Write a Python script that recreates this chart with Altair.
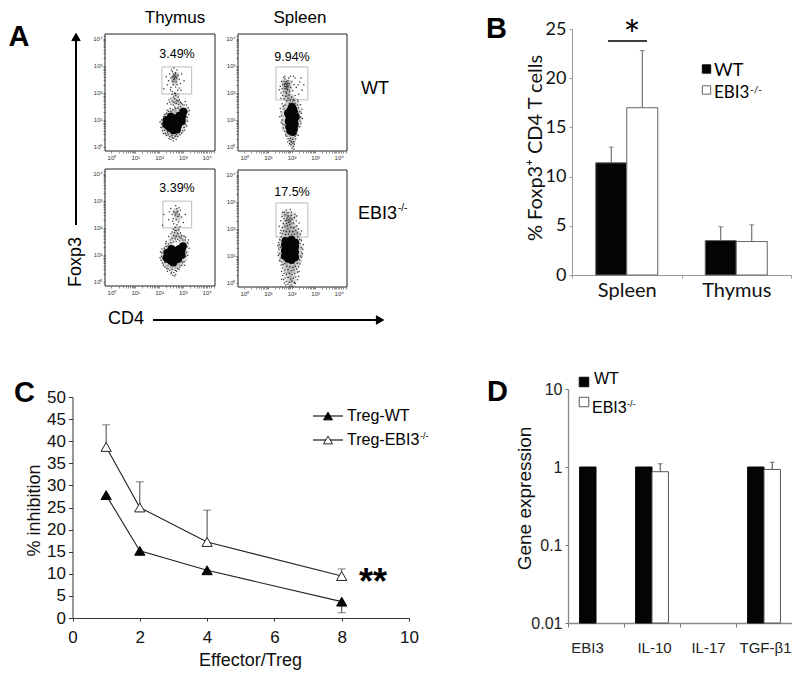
import altair as alt
import numpy as np
import pandas as pd

W, H = 784, 666
M = 8  # page margin
SANS = "Liberation Sans"
CAL = "Lato"

# ---------- panel A values (log10 decades) ----------
TL_CORE = [(2.3,.85),(2.32,1.0),(2.45,.72),(2.6,.62),(2.35,.8),(2.4,.95),(2.5,.7),(2.55,.85),(2.55,1.0),(2.65,.75),(2.7,.9),(2.7,1.05),(2.8,.8),(2.82,1.0),(2.85,1.15),(2.95,.95),(2.98,1.15),(3.02,1.3),(2.5,1.12),(2.75,.65)]
TL_HALO = [(2.68,2.58),(2.62,2.5),(2.72,2.66),(2.66,2.4),(2.72,1.9),(2.65,1.7),(2.78,1.65),(2.2,.75),(2.2,.95),(2.3,.55),(2.3,1.15),(2.45,.48),(2.45,1.25),(2.6,.42),(2.6,1.3),(2.75,.48),(2.75,1.35),(2.9,.6),(2.9,1.45),(3.05,.8),(3.1,1.05),(3.12,1.35)]
TL_DOTS = [(2.6,2.6),(2.65,2.65),(2.7,2.6),(2.65,2.55),(2.6,2.7),(2.7,2.7),(2.55,2.62),(2.75,2.55),(2.62,2.5),(2.68,2.75),(2.5,2.55),(2.8,2.65),(2.58,2.42),(2.72,2.4),(2.45,2.7),(2.85,2.5),(2.52,2.85),(2.75,2.85),(2.4,2.45),(2.9,2.35),(2.6,2.3),(2.7,2.22),(2.5,2.2),(2.85,2.18),(2.35,2.3),(2.62,2.92),(2.95,2.7),(2.3,2.6),(2.78,2.1),(2.55,2.05),(2.65,2.0),(3.05,2.45),(2.2,2.15),
(2.55,1.95),(2.7,1.9),(2.6,1.85),(2.8,1.85),(2.5,1.8),(2.65,1.78),(2.75,1.72),(2.85,1.75),(2.55,1.7),(2.45,1.65),(2.62,1.65),(2.72,1.62),(2.9,1.65),(2.35,1.6),(2.5,1.58),(2.6,1.55),(2.82,1.58),
(2.08,.72),(2.1,.85),(2.12,1.0),(2.14,.6),(2.18,.5),(2.2,.95),(2.2,1.12),(2.24,.62),(2.25,1.2),(2.3,.42),(2.32,1.25),(2.38,.45),(2.4,1.32),(2.45,.38),(2.5,1.3),(2.55,.42),(2.58,1.38),(2.62,.32),(2.68,.4),(2.7,1.42),(2.78,.38),(2.8,1.45),(2.88,.45),(2.9,1.5),(2.95,.52),(3.0,.6),(3.05,.72),(3.1,.85),(3.12,1.0),(3.18,1.1),(3.2,1.3),(3.22,1.45),(3.15,1.55),(3.05,1.55),(2.98,1.58),(3.25,1.2),(2.72,.28),(2.5,.28),(2.6,.22),(2.35,.55),
(2.04,.92),(2.16,.74),(2.22,1.05),(2.27,.5),(2.34,1.36),(2.42,.3),(2.47,1.42),(2.56,.34),(2.66,1.48),(2.74,.46),(2.86,.54),(2.94,1.62),(3.08,.62),(3.16,.78),(3.2,.95),(3.28,1.35),(3.1,1.68),(2.82,1.7),(2.42,1.75),(2.68,1.98),(2.48,2.12),(2.92,2.1),(2.76,2.3),(2.56,2.78)]

TR_CORE = [(1.95,.6),(2.05,.55),(2.1,.68),(1.9,.75),(2.0,.8),(2.13,.85),(1.88,.95),(2.0,1.0),(2.13,1.05),(1.9,1.15),(2.02,1.2),(2.12,1.25),(1.95,1.35),(2.08,1.38),(2.02,1.48),(1.85,1.25),(2.18,1.12)]
TR_HALO = [(1.8,2.3),(1.72,2.22),(1.88,2.38),(1.78,2.12),(1.7,2.4),(1.9,2.2),(1.85,2.02),(1.75,1.95),(1.95,1.85),(2.05,1.75),(1.8,1.8),(1.72,.7),(1.68,.95),(1.66,1.2),(1.72,1.45),(1.85,1.62),(2.2,1.55),(2.3,1.3),(2.32,1.05),(2.28,.8),(2.15,.5),(1.85,.48),(2.0,.38),(2.05,.25),(2.0,.1)]
TR_DOTS = [(1.8,2.3),(1.75,2.35),(1.85,2.25),(1.7,2.25),(1.9,2.35),(1.78,2.42),(1.62,2.3),(1.68,2.42),(1.85,2.45),(1.95,2.2),(1.72,2.15),(1.82,2.12),(1.6,2.15),(1.92,2.05),(1.58,2.42),(1.72,2.52),(1.88,2.55),(2.02,2.42),(2.1,2.3),(1.52,2.25),(1.65,2.05),(1.78,2.0),(1.55,2.0),(1.9,1.92),(2.05,2.08),(2.2,2.2),(2.35,2.4),(2.15,2.55),(1.62,1.9),(1.75,1.88),(2.0,1.85),(1.85,1.8),(2.15,1.9),(1.68,1.78),(1.95,1.72),(2.3,1.95),(2.08,1.75),(1.55,1.8),(1.8,1.7),(2.25,1.75),(2.45,2.1),(1.72,2.62),(1.95,2.62),(1.76,2.24),(1.84,2.36),(1.7,2.34),(1.8,2.18),
(1.55,1.3),(1.6,1.0),(1.62,.85),(1.58,1.15),(1.65,.7),(1.68,1.4),(1.65,1.5),(1.7,.58),(1.72,1.55),(1.75,.45),(1.8,.4),(1.85,.3),(1.9,.25),(1.95,.32),(2.0,.18),(2.05,.28),(2.1,.2),(2.15,.4),(2.2,.48),(2.25,.6),(2.32,.75),(2.36,.95),(2.38,1.1),(2.35,1.3),(2.3,1.45),(2.25,1.55),(2.15,1.62),(2.05,1.66),(1.9,1.62),(2.42,1.25),(1.98,.08),(2.08,.02),(2.02,-.05),(2.12,.1),(1.92,.12),(2.1,-.08),
(1.5,1.12),(1.56,.9),(1.52,1.42),(1.6,1.6),(1.68,.82),(1.78,.55),(1.84,.18),(1.96,.22),(2.06,.14),(2.18,.3),(2.28,.42),(2.4,.88),(2.46,1.05),(2.44,1.4),(2.38,1.56),(2.28,1.68),(2.12,1.72),(1.98,1.62),(1.48,2.12),(2.28,2.3),(2.4,2.55),(2.52,2.3),(1.66,2.58),(2.08,2.62)]

BL_CORE = [(2.32,.9),(2.35,1.08),(2.38,.85),(2.42,1.0),(2.5,.78),(2.55,.95),(2.55,1.12),(2.65,.82),(2.7,.98),(2.7,1.15),(2.8,.85),(2.82,1.05),(2.85,1.22),(2.95,1.0),(2.95,1.2),(3.0,1.32),(2.6,.72),(2.52,1.22)]
BL_HALO = [(2.74,2.5),(2.7,2.62),(2.8,2.38),(2.75,1.95),(2.7,1.75),(2.85,1.7),(2.98,1.6),(2.6,1.62),(2.2,.85),(2.2,1.05),(2.3,.65),(2.32,1.25),(2.45,.58),(2.45,1.38),(2.6,.55),(2.75,.6),(2.9,.7),(3.05,.85),(3.1,1.1),(3.12,1.4)]
BL_DOTS = [(2.72,2.55),(2.78,2.62),(2.68,2.48),(2.8,2.42),(2.62,2.6),(2.75,2.72),(2.6,2.35),(2.85,2.5),(2.7,2.82),(2.9,2.65),(2.55,2.5),(2.72,2.3),(2.82,2.22),(2.95,2.4),(2.5,2.72),(2.62,2.15),(2.75,2.12),(2.88,2.05),(3.02,2.2),(2.4,2.3),(2.2,2.5),(2.15,2.1),(2.68,2.02),
(2.6,1.95),(2.72,1.9),(2.82,1.92),(2.55,1.85),(2.65,1.82),(2.78,1.8),(2.9,1.82),(2.5,1.78),(2.62,1.72),(2.72,1.7),(2.85,1.68),(2.95,1.72),(3.05,1.7),(3.12,1.65),(2.4,1.68),(2.55,1.62),(2.68,1.6),(2.78,1.58),(2.3,1.5),
(2.08,.8),(2.1,.95),(2.12,1.08),(2.14,.7),(2.18,.62),(2.2,1.15),(2.22,1.25),(2.15,.88),(2.25,.55),(2.3,1.32),(2.32,.5),(2.38,.48),(2.4,1.4),(2.45,.42),(2.5,1.45),(2.55,.45),(2.6,1.48),(2.62,.35),(2.68,.42),(2.72,1.5),(2.78,.5),(2.85,1.52),(2.88,.55),(2.95,.62),(3.0,1.55),(3.05,.75),(3.12,.95),(3.15,1.1),(3.18,1.3),(3.2,1.45),(3.1,1.55),(2.58,.25),(2.7,.28),(2.5,.3),
(2.04,.9),(2.06,1.12),(2.12,1.22),(2.24,.72),(2.28,1.42),(2.35,.4),(2.46,1.55),(2.52,.36),(2.66,.22),(2.74,.4),(2.84,.46),(2.98,.72),(3.08,.62),(3.2,.98),(3.26,1.25),(3.24,1.55),(2.92,1.62),(2.66,1.9),(2.58,2.25),(2.84,2.75),(3.1,2.5),(2.44,2.6)]

BR_CORE = [(1.72,1.0),(1.72,1.2),(1.72,1.4),(1.85,.9),(1.85,1.1),(1.85,1.3),(1.85,1.5),(2.0,.85),(2.0,1.05),(2.0,1.25),(2.0,1.45),(2.0,1.6),(2.15,.95),(2.15,1.15),(2.15,1.35),(2.15,1.5),(1.75,1.55)]
BR_HALO = [(1.89,2.33),(1.8,2.42),(1.98,2.28),(1.75,2.22),(1.9,2.15),(2.05,2.12),(1.72,2.05),(1.85,1.98),(2.0,1.95),(2.15,2.0),(1.68,1.85),(1.82,1.82),(1.98,1.8),(2.15,1.82),(2.28,1.8),(1.6,1.6),(1.55,1.35),(1.52,1.1),(1.58,.88),(2.3,1.55),(2.36,1.3),(2.36,1.05),(2.3,.82),(1.72,.7),(1.88,.65),(2.05,.65),(2.2,.68),(1.78,.48),(1.95,.45),(2.12,.48),(1.85,.3),(2.02,.28),(1.92,.12),(2.05,.05),(1.9,2.55),(1.7,2.55),(2.08,2.45)]
BR_DOTS = [(1.89,2.33),(1.82,2.4),(1.95,2.28),(1.75,2.3),(2.02,2.36),(1.86,2.48),(1.68,2.38),(1.98,2.5),(1.78,2.2),(1.92,2.15),(2.08,2.22),(1.65,2.2),(1.6,2.45),(1.72,2.52),(2.12,2.42),(1.85,2.6),(2.0,2.62),(2.2,2.3),(1.55,2.3),(1.7,2.62),(2.15,2.55),(1.88,2.25),(1.8,2.32),(1.94,2.4),(1.84,2.12),
(1.6,2.05),(1.72,2.08),(1.85,2.0),(1.98,2.06),(2.1,2.05),(2.22,2.12),(1.55,1.95),(1.66,1.92),(1.78,1.9),(1.92,1.92),(2.05,1.9),(2.18,1.95),(2.3,2.0),(1.62,1.82),(1.74,1.78),(1.86,1.8),(2.0,1.78),(2.12,1.8),(2.25,1.85),(2.36,1.8),(1.56,1.72),(1.68,1.68),(2.26,1.7),(2.35,1.62),(1.5,1.6),(1.58,1.55),(1.48,1.42),
(1.46,1.25),(1.5,1.08),(1.55,.92),(1.45,1.5),(1.52,1.32),(2.36,1.45),(2.4,1.3),(2.42,1.15),(2.38,1.0),(2.34,.85),(2.42,.95),(2.48,1.25),(1.58,.78),(1.64,.68),(1.72,.72),(1.8,.62),(1.92,.6),(2.05,.58),(2.15,.62),(2.24,.72),(1.62,.55),(1.72,.48),(1.85,.5),(1.98,.45),(2.1,.48),(2.22,.52),(2.3,.6),(1.68,.35),(1.78,.32),(1.9,.36),(2.02,.3),(2.14,.35),(2.25,.4),(1.62,.28),(1.72,.18),(1.85,.2),(1.96,.15),(2.08,.18),(2.18,.22),(1.78,.05),(1.9,.02),(2.02,.06),(2.12,.02),(1.98,-.08),(1.85,-.05),(2.05,-.12),(1.7,.0),(2.25,.12),
(1.42,1.38),(1.44,1.02),(1.5,.82),(2.46,1.08),(2.5,1.42),(2.42,1.58),(1.52,1.85),(2.42,1.92),(1.48,2.1),(2.32,2.22),(1.62,2.62),(1.78,2.7),(1.95,2.72),(2.22,2.48),(1.56,.66),(2.36,.7),(2.32,.42),(1.58,.42),(1.66,.12),(2.3,.24),(1.58,.14),(2.16,-.02),(1.92,-.12),(1.76,-.08)]

GATE_TL = [2.12, 3.37, 1.96, 2.96]
GATE_TR = [1.34, 2.69, 1.74, 2.96]
GATE_BL = [2.16, 3.37, 2.0, 2.99]
GATE_BR = [1.34, 2.69, 1.7, 2.96]
FLOW_MAJOR = [0, 1, 2, 3, 4]
FLOW_PCT = ["3.49%", "9.94%", "3.39%", "17.5%"]

# ---------- panel B ----------
B_CATS = ["Spleen", "Spleen", "Thymus", "Thymus"]
B_GROUP = ["WT", "EBI3", "WT", "EBI3"]
B_MEAN = [11.4, 17.0, 3.5, 3.4]
B_TOP = [13.0, 22.8, 4.9, 5.1]

# ---------- panel C ----------
C_X = [1, 2, 4, 8]
C_WT = [27.8, 15.2, 10.8, 3.7]
C_KO = [38.7, 25.0, 17.2, 9.5]
C_KO_TOP = [43.7, 30.8, 24.4, 11.1]
C_WT_ERR_X = [8]
C_WT_ERR_END = [1.2]

# ---------- panel D ----------
D_ORDER = ["EBI3", "IL-10", "IL-17", "TGF-β1"]
D_CATS = ["EBI3", "IL-10", "TGF-β1", "IL-10", "TGF-β1"]
D_GROUP = ["WT", "WT", "WT", "EBI3", "EBI3"]
D_MEAN = [1, 1, 1, 0.87, 0.93]
D_TOP_CATS = ["IL-10", "TGF-β1"]
D_TOP = [1.1, 1.15]
D_LOW = 0.01


def px(v):
    return v - M


def label(text, x, y, size=14, font=SANS, weight="normal", align="left", baseline="middle", angle=0, color="black"):
    return alt.Chart(pd.DataFrame({"t": [text]})).mark_text(
        font=font, fontSize=size, fontWeight=weight, align=align, baseline=baseline, angle=angle, color=color
    ).encode(text="t:N", x=alt.value(px(x)), y=alt.value(px(y)))


def segment(x1, y1, x2, y2, width=1.0, color="black"):
    return alt.Chart(pd.DataFrame({"t": [0]})).mark_rule(strokeWidth=width, color=color).encode(
        x=alt.value(px(x1)), x2=alt.value(px(x2)), y=alt.value(px(y1)), y2=alt.value(px(y2)))


def glyph(shape, x, y, size, fill, stroke="black", width=1.0):
    return alt.Chart(pd.DataFrame({"t": [0]})).mark_point(
        shape=shape, size=size, filled=True, fill=fill, stroke=stroke, strokeWidth=width, opacity=1
    ).encode(x=alt.value(px(x)), y=alt.value(px(y)))


def flow(core, halo, dots, gate, x0, x1, y0, y1):
    xs = alt.Scale(domain=[-0.27, 4.35], range=[px(x0), px(x1)], nice=False, zero=False)
    ys = alt.Scale(domain=[-0.15, 4.18], range=[px(y1), px(y0)], nice=False, zero=False)
    minors = [float(d + np.log10(m)) for d in FLOW_MAJOR[:-1] for m in range(2, 10)] + [4.1, 4.2, 4.3]
    ticks = FLOW_MAJOR + minors
    expr = "datum.value % 1 == 0 ? '10' + ['⁰','¹','²','³','⁴'][datum.value] : ''"
    xa = alt.Axis(orient="bottom", offset=-(H - px(y1)), values=ticks, labelExpr=expr, title=None, grid=False, domain=False,
                  tickSize=2, tickWidth=0.6, tickColor="#444", labelFontSize=6, labelColor="#333", labelPadding=1,
                  labelFont=SANS, labelOverlap=False, labelFlush=False)
    ya = alt.Axis(orient="left", offset=-px(x0), values=ticks, labelExpr=expr, title=None, grid=False, domain=False,
                  tickSize=2, tickWidth=0.6, tickColor="#444", labelFontSize=6, labelColor="#333", labelPadding=1,
                  labelFont=SANS, labelOverlap=False, labelFlush=False)
    cdf = pd.DataFrame(core, columns=["d", "e"])
    hdf = pd.DataFrame(halo, columns=["d", "e"])
    ddf = pd.DataFrame(dots, columns=["d", "e"])
    gdf = pd.DataFrame({"a": [gate[0]], "b": [gate[1]], "c": [gate[2]], "f": [gate[3]]})
    frame = alt.Chart(pd.DataFrame({"t": [0]})).mark_rect(fillOpacity=0, stroke="#222", strokeWidth=1).encode(
        x=alt.value(px(x0)), x2=alt.value(px(x1)), y=alt.value(px(y0)), y2=alt.value(px(y1)))
    g = alt.Chart(gdf).mark_rect(fillOpacity=0, stroke="#aaa", strokeWidth=0.8).encode(
        x=alt.X("a:Q", scale=xs, axis=xa), x2="b:Q", y=alt.Y("c:Q", scale=ys, axis=ya), y2="f:Q")
    h = alt.Chart(hdf).mark_circle(size=42, color="#222", opacity=0.2).encode(
        x=alt.X("d:Q", scale=xs, axis=xa), y=alt.Y("e:Q", scale=ys, axis=ya))
    d = alt.Chart(ddf).mark_circle(size=2.2, color="#111", opacity=0.85).encode(
        x=alt.X("d:Q", scale=xs, axis=xa), y=alt.Y("e:Q", scale=ys, axis=ya))
    c = alt.Chart(cdf).mark_circle(size=64, color="#050505", opacity=1).encode(
        x=alt.X("d:Q", scale=xs, axis=xa), y=alt.Y("e:Q", scale=ys, axis=ya))
    return alt.layer(g, h, d, c), frame


p_tl, f_tl = flow(TL_CORE, TL_HALO, TL_DOTS, GATE_TL, 105, 215, 34, 151)
p_tr, f_tr = flow(TR_CORE, TR_HALO, TR_DOTS, GATE_TR, 238, 347, 34, 151)
p_bl, f_bl = flow(BL_CORE, BL_HALO, BL_DOTS, GATE_BL, 105, 215, 169, 286)
p_br, f_br = flow(BR_CORE, BR_HALO, BR_DOTS, GATE_BR, 238, 347, 170, 287)

# ---------- panel B chart ----------
b_df = pd.DataFrame({"cat": B_CATS, "grp": B_GROUP, "m": B_MEAN, "top": B_TOP})
bx = alt.Scale(domain=["Spleen", "Thymus"], range=[px(572), px(791)], paddingInner=0, paddingOuter=0)
by = alt.Scale(domain=[0, 25], range=[px(275), px(29)], nice=False)
bo = alt.Scale(domain=["WT", "EBI3"], paddingInner=0, paddingOuter=0.766)
bxa = alt.Axis(orient="bottom", offset=-(H - px(275)), title=None, labelAngle=0, labelFont=CAL, labelFontSize=20, labelColor="#111",
               labelPadding=2, domainColor="#999", tickColor="#999", tickSize=3, grid=False, tickBand="extent")
bya = alt.Axis(orient="left", offset=-px(572), title="% Foxp3⁺ CD4 T cells", titleFont=CAL, titleFontSize=20, titleFontWeight="normal",
               titleColor="#111", titleX=-27, titleY=px(147.5), values=[0, 5, 10, 15, 20, 25], labelFont=CAL, labelFontSize=18, labelColor="#111",
               domainColor="#999", tickColor="#999", tickSize=3, labelPadding=3, grid=False, labelFlush=False)
X_B = alt.X("cat:N", scale=bx, axis=bxa)
OFF_B = alt.XOffset("grp:N", scale=bo)
b_err = alt.Chart(b_df).mark_rule(color="#555", strokeWidth=1).encode(x=X_B, xOffset=OFF_B, y=alt.Y("m:Q", scale=by, axis=bya), y2="top:Q")
b_cap = alt.Chart(b_df).mark_tick(color="#555", thickness=1, size=5, orient="horizontal").encode(x=X_B, xOffset=OFF_B, y=alt.Y("top:Q", scale=by, axis=bya))
b_bar = alt.Chart(b_df).mark_bar(stroke="#666", strokeWidth=1).encode(
    x=X_B, xOffset=OFF_B, y=alt.Y("m:Q", scale=by, axis=bya),
    fill=alt.Fill("grp:N", scale=alt.Scale(domain=["WT", "EBI3"], range=["#050505", "white"]), legend=None))
panel_b = alt.layer(b_err, b_cap, b_bar)

# ---------- panel C chart ----------
cx = alt.Scale(domain=[0, 10], range=[px(72.5), px(409)], nice=False)
cy = alt.Scale(domain=[0, 50], range=[px(618), px(397)], nice=False)
cxa = alt.Axis(orient="bottom", offset=-(H - px(618)), title="Effector/Treg", titleFont=SANS, titleFontSize=18, titleFontWeight="normal",
               titleColor="#111", titlePadding=6, titleX=px(250), values=[0, 2, 4, 6, 8, 10], labelFont=SANS, labelFontSize=17, labelColor="#111",
               labelPadding=8, domainColor="#333", tickColor="#333", tickSize=3, grid=False, labelFlush=False)
cya = alt.Axis(orient="left", offset=-px(72.5), title="% inhibition", titleFont=SANS, titleFontSize=18, titleFontWeight="normal",
               titleColor="#111", titleX=-29.5, titleY=px(510), values=list(range(0, 51, 5)), labelFont=SANS, labelFontSize=17, labelColor="#111",
               labelPadding=3, domainColor="#333", tickColor="#333", tickSize=4, grid=False, labelFlush=False)
c_df = pd.DataFrame({"x": C_X, "wt": C_WT, "ko": C_KO, "top": C_KO_TOP})
c_low = pd.DataFrame({"x": C_WT_ERR_X, "wt": C_WT_ERR_END, "base": C_WT[-1:]})
XC = alt.X("x:Q", scale=cx, axis=cxa)
c_layers = alt.layer(
    alt.Chart(c_df).mark_rule(color="#444", strokeWidth=1).encode(x=XC, y=alt.Y("ko:Q", scale=cy, axis=cya), y2="top:Q"),
    alt.Chart(c_df).mark_tick(color="#444", thickness=1, size=8, orient="horizontal").encode(x=XC, y=alt.Y("top:Q", scale=cy, axis=cya)),
    alt.Chart(c_low).mark_rule(color="#444", strokeWidth=1).encode(x=XC, y=alt.Y("wt:Q", scale=cy, axis=cya), y2="base:Q"),
    alt.Chart(c_low).mark_tick(color="#444", thickness=1, size=8, orient="horizontal").encode(x=XC, y=alt.Y("wt:Q", scale=cy, axis=cya)),
    alt.Chart(c_df).mark_line(color="#222", strokeWidth=1.1).encode(x=XC, y=alt.Y("ko:Q", scale=cy, axis=cya)),
    alt.Chart(c_df).mark_line(color="#222", strokeWidth=1.1).encode(x=XC, y=alt.Y("wt:Q", scale=cy, axis=cya)),
    alt.Chart(c_df).mark_point(shape="triangle-up", size=105, filled=True, fill="white", stroke="#222", strokeWidth=1, opacity=1).encode(x=XC, y=alt.Y("ko:Q", scale=cy, axis=cya)),
    alt.Chart(c_df).mark_point(shape="triangle-up", size=105, filled=True, fill="#050505", stroke="#050505", strokeWidth=1, opacity=1).encode(x=XC, y=alt.Y("wt:Q", scale=cy, axis=cya)),
)

# ---------- panel D chart ----------
d_df = pd.DataFrame({"cat": D_CATS, "grp": D_GROUP, "m": D_MEAN, "base": [D_LOW] * len(D_MEAN)})
d_top = pd.DataFrame({"cat": D_TOP_CATS, "grp": ["EBI3"] * len(D_TOP), "m": D_MEAN[-2:], "top": D_TOP})
dx = alt.Scale(domain=D_ORDER, range=[px(568), px(792)], paddingInner=0, paddingOuter=0)
dy = alt.Scale(type="log", domain=[0.01, 10], range=[px(623), px(389)], nice=False)
do = alt.Scale(domain=["WT", "EBI3"], paddingInner=0, paddingOuter=0.705)
d_shift = {"condition": [{"test": "datum.label == 'EBI3'", "value": -9},
                         {"test": "datum.label == 'IL-10'", "value": 2},
                         {"test": "datum.label == 'TGF-β1'", "value": 1}], "value": 0}
dxa = alt.Axis(orient="bottom", offset=-(H - px(623)), title=None, labelAngle=0, labelFont=SANS, labelFontSize=15, labelColor="#222",
               labelPadding=13, labelOffset=d_shift, domainColor="#888", domainWidth=1.3, tickColor="#777", tickSize=4, grid=False, tickBand="extent", labelOverlap=False)
dya = alt.Axis(orient="left", offset=-px(568), title="Gene expression", titleFont=SANS, titleFontSize=19, titleFontWeight="normal",
               titleColor="#111", titleX=-34, titleY=px(498), values=[0.01, 0.1, 1, 10], labelExpr="'' + datum.value", labelFont=SANS, labelFontSize=16,
               labelColor="#222", domainColor="#888", domainWidth=1.3, tickColor="#777", tickSize=3, labelPadding=3, grid=False, labelFlush=False)
X_D = alt.X("cat:N", scale=dx, axis=dxa)
OFF_D = alt.XOffset("grp:N", scale=do)
d_err = alt.Chart(d_top).mark_rule(color="#444", strokeWidth=1).encode(x=X_D, xOffset=OFF_D, y=alt.Y("m:Q", scale=dy, axis=dya), y2="top:Q")
d_cap = alt.Chart(d_top).mark_tick(color="#444", thickness=1, size=5, orient="horizontal").encode(x=X_D, xOffset=OFF_D, y=alt.Y("top:Q", scale=dy, axis=dya))
d_bar = alt.Chart(d_df).mark_bar(strokeWidth=1).encode(
    x=X_D, xOffset=OFF_D, y=alt.Y("m:Q", scale=dy, axis=dya), y2="base:Q",
    fill=alt.Fill("grp:N", scale=alt.Scale(domain=["WT", "EBI3"], range=["#050505", "white"]), legend=None),
    stroke=alt.Stroke("grp:N", scale=alt.Scale(domain=["WT", "EBI3"], range=["#050505", "#555"]), legend=None))
panel_d = alt.layer(d_err, d_cap, d_bar)

# ---------- annotations ----------
notes = [
    label("A", 8.5, 37, 29, weight="bold"), label("B", 486, 29, 29, weight="bold"),
    label("C", 14, 393, 29, weight="bold"), label("D", 487, 392, 29, weight="bold"),
    label("Thymus", 175, 18, 17, align="center"), label("Spleen", 300, 18, 17, align="center"),
    label(FLOW_PCT[0], 177, 54, 12.5, align="center"), label(FLOW_PCT[1], 292, 57, 12.5, align="center"),
    label(FLOW_PCT[2], 177, 188, 12.5, align="center"), label(FLOW_PCT[3], 292, 192, 12.5, align="center"),
    label("WT", 361, 89, 18), label("EBI3", 358, 214, 18), label("-/-", 398, 208, 10),
    label("Foxp3", 76, 262, 18, align="center", angle=270), label("CD4", 108, 319, 18),
    segment(76, 225, 76, 40, 2), glyph("triangle-up", 76, 37, 70, "black"),
    segment(153, 320, 378, 320, 2), glyph("triangle-right", 380, 320, 70, "black"),
    segment(608, 41, 647, 41, 1.5), label("*", 632, 38, 40, font=CAL, align="center"),
    glyph("square", 706.5, 69, 70, "#050505", "#050505"), label("WT", 714, 71, 18, font=CAL),
    glyph("square", 706.5, 90, 70, "white", "#666"), label("EBI3", 714, 93, 17, font=CAL), label("-/-", 750, 90, 10, font=CAL),
    segment(313, 416, 343, 416, 1.1), glyph("triangle-up", 328, 416, 80, "#050505", "#050505"), label("Treg-WT", 347, 416, 16),
    segment(313, 440, 343, 440, 1.1), glyph("triangle-up", 328, 440, 80, "white", "#222"), label("Treg-EBI3", 347, 440, 16), label("-/-", 420, 436, 9),
    label("**", 373, 583, 36, weight="bold", align="center"),
    glyph("square", 584, 382, 90, "#050505", "#050505"), label("WT", 594, 379, 16),
    glyph("square", 584, 402, 90, "white", "#555"), label("EBI3", 592, 408, 16), label("-/-", 627, 404, 9),
]

chart = alt.layer(
    p_tl, p_tr, p_bl, p_br, panel_b, c_layers, panel_d,
    f_tl, f_tr, f_bl, f_br, *notes,
).resolve_scale(x="independent", y="independent", xOffset="independent", fill="independent", stroke="independent").properties(
    width=W, height=H, padding=0, autosize=alt.AutoSizeParams(type="none")
).configure_view(stroke=None)

chart.save("out.html", embed_options={"renderer": "svg", "actions": False})
